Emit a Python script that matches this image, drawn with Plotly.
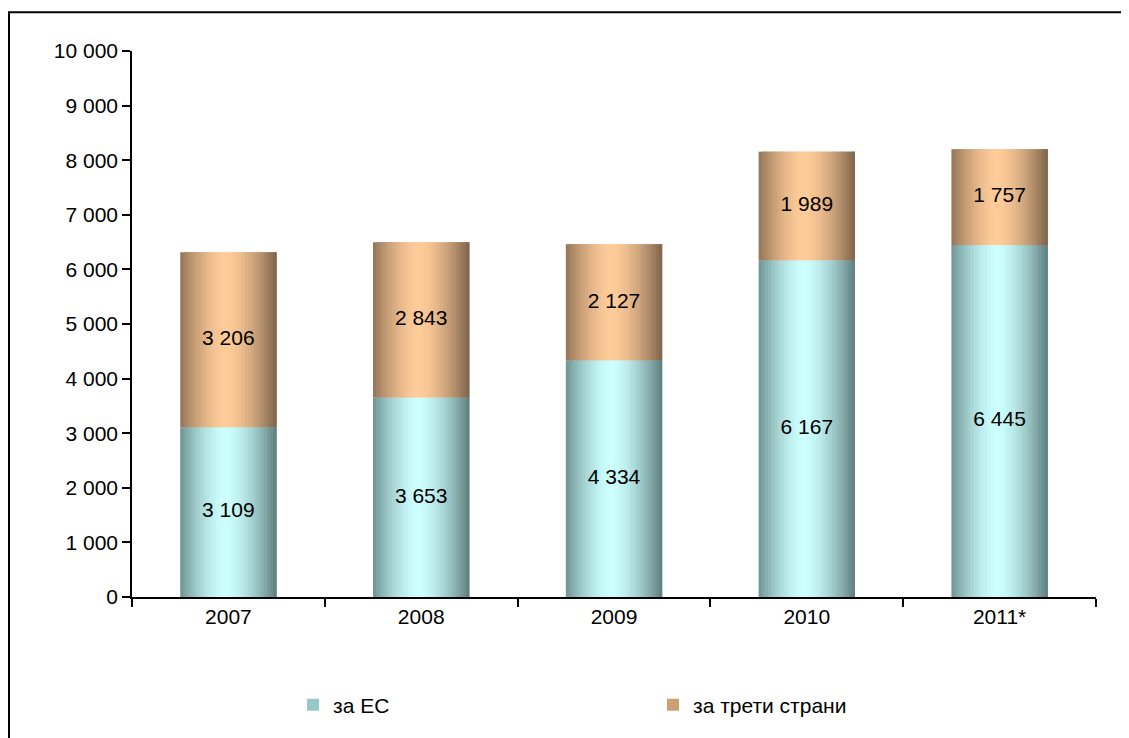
import plotly.graph_objects as go

years = ["2007", "2008", "2009", "2010", "2011*"]
eu_values = [3109, 3653, 4334, 6167, 6445]
third_values = [3206, 2843, 2127, 1989, 1757]
series_names = ["за ЕС", "за трети страни"]
y_ticks = list(range(0, 10001, 1000))

FONT = "Liberation Sans, Arial, sans-serif"
OFF = 8  # page body margin
W, H = 1129 - OFF, 738 - OFF
PLOT_L, PLOT_R, PLOT_T, PLOT_B = 132, 1096, 51, 601
L, T = PLOT_L - OFF, PLOT_T - OFF
R = W - (PLOT_R - OFF)
B = H - (PLOT_B - OFF)
PW = W - L - R
PH = H - T - B

teal_light, teal_dark = (204, 255, 255), (92, 124, 124)
orng_light, orng_dark = (255, 204, 153), (124, 98, 74)

N = 30
BAR_W = 0.5
sw = BAR_W / N


def shade(light, dark, u):
    d = abs(u - 0.47) / 0.53
    t = max(0.0, 1 - d ** 1.6)
    c = [round(dk + (lt - dk) * t) for lt, dk in zip(light, dark)]
    return f"rgb({c[0]},{c[1]},{c[2]})"


fig = go.Figure()

for i in range(N):
    u = (i + 0.5) / N
    off = -BAR_W / 2 + i * sw
    w = sw * 2 if i < N - 1 else sw
    fig.add_trace(go.Bar(
        x=years, y=eu_values, offset=off, width=w,
        marker=dict(color=shade(teal_light, teal_dark, u), line=dict(width=0)),
        showlegend=False, hoverinfo="skip"))
    fig.add_trace(go.Bar(
        x=years, y=third_values, base=eu_values, offset=off, width=w,
        marker=dict(color=shade(orng_light, orng_dark, u), line=dict(width=0)),
        showlegend=False, hoverinfo="skip"))

# legend entries (zero-height bars just for legend swatches)
fig.add_trace(go.Bar(x=years, y=[0] * len(years), name=series_names[0],
                     marker=dict(color="rgb(150,200,200)", line=dict(width=0)),
                     legend="legend", hoverinfo="skip"))
fig.add_trace(go.Bar(x=years, y=[0] * len(years), name=series_names[1],
                     marker=dict(color="rgb(205,160,115)", line=dict(width=0)),
                     legend="legend2", hoverinfo="skip"))


def fmt(v):
    return f"{v:,}".replace(",", " ")


fig.add_trace(go.Scatter(
    x=years, y=[v / 2 for v in eu_values], mode="text",
    text=[fmt(v) for v in eu_values],
    textfont=dict(family=FONT, size=21, color="black"),
    showlegend=False, hoverinfo="skip"))
fig.add_trace(go.Scatter(
    x=years, y=[e + t / 2 for e, t in zip(eu_values, third_values)], mode="text",
    text=[fmt(v) for v in third_values],
    textfont=dict(family=FONT, size=21, color="black"),
    showlegend=False, hoverinfo="skip"))

leg_y = (PLOT_B - 710) / PH
fig.update_layout(
    width=W, height=H,
    margin=dict(l=L, r=R, t=T, b=B),
    paper_bgcolor="white", plot_bgcolor="white",
    barmode="overlay",
    separators=", ",
    font=dict(family=FONT, size=21, color="black"),
    legend=dict(orientation="h", x=(293 - PLOT_L) / PW, xanchor="left",
                y=leg_y, yanchor="middle",
                font=dict(family=FONT, size=21, color="black"),
                bgcolor="rgba(0,0,0,0)"),
    legend2=dict(orientation="h", x=(653 - PLOT_L) / PW, xanchor="left",
                 y=leg_y, yanchor="middle",
                 font=dict(family=FONT, size=21, color="black"),
                 bgcolor="rgba(0,0,0,0)"),
    xaxis=dict(range=[-0.5, 4.5], showline=True, linecolor="black", linewidth=1.5,
               ticks="outside", tickson="boundaries", ticklen=8, tickcolor="black",
               tickwidth=1.5, showgrid=False, zeroline=False,
               tickfont=dict(family=FONT, size=21, color="black")),
    yaxis=dict(range=[0, 10000], tickvals=y_ticks, tickformat=",d",
               showline=True, linecolor="black", linewidth=1.5,
               ticks="outside", ticklen=8, tickcolor="black", tickwidth=1.5,
               showgrid=False, zeroline=False,
               tickfont=dict(family=FONT, size=21, color="black")),
    shapes=[dict(type="rect", xref="paper", yref="paper",
                 x0=(1 - L) / PW, x1=1.2, y0=-0.5, y1=(H - B - 4) / PH,
                 line=dict(color="black", width=2), fillcolor="rgba(0,0,0,0)")],
)

fig.write_html("out.html")
